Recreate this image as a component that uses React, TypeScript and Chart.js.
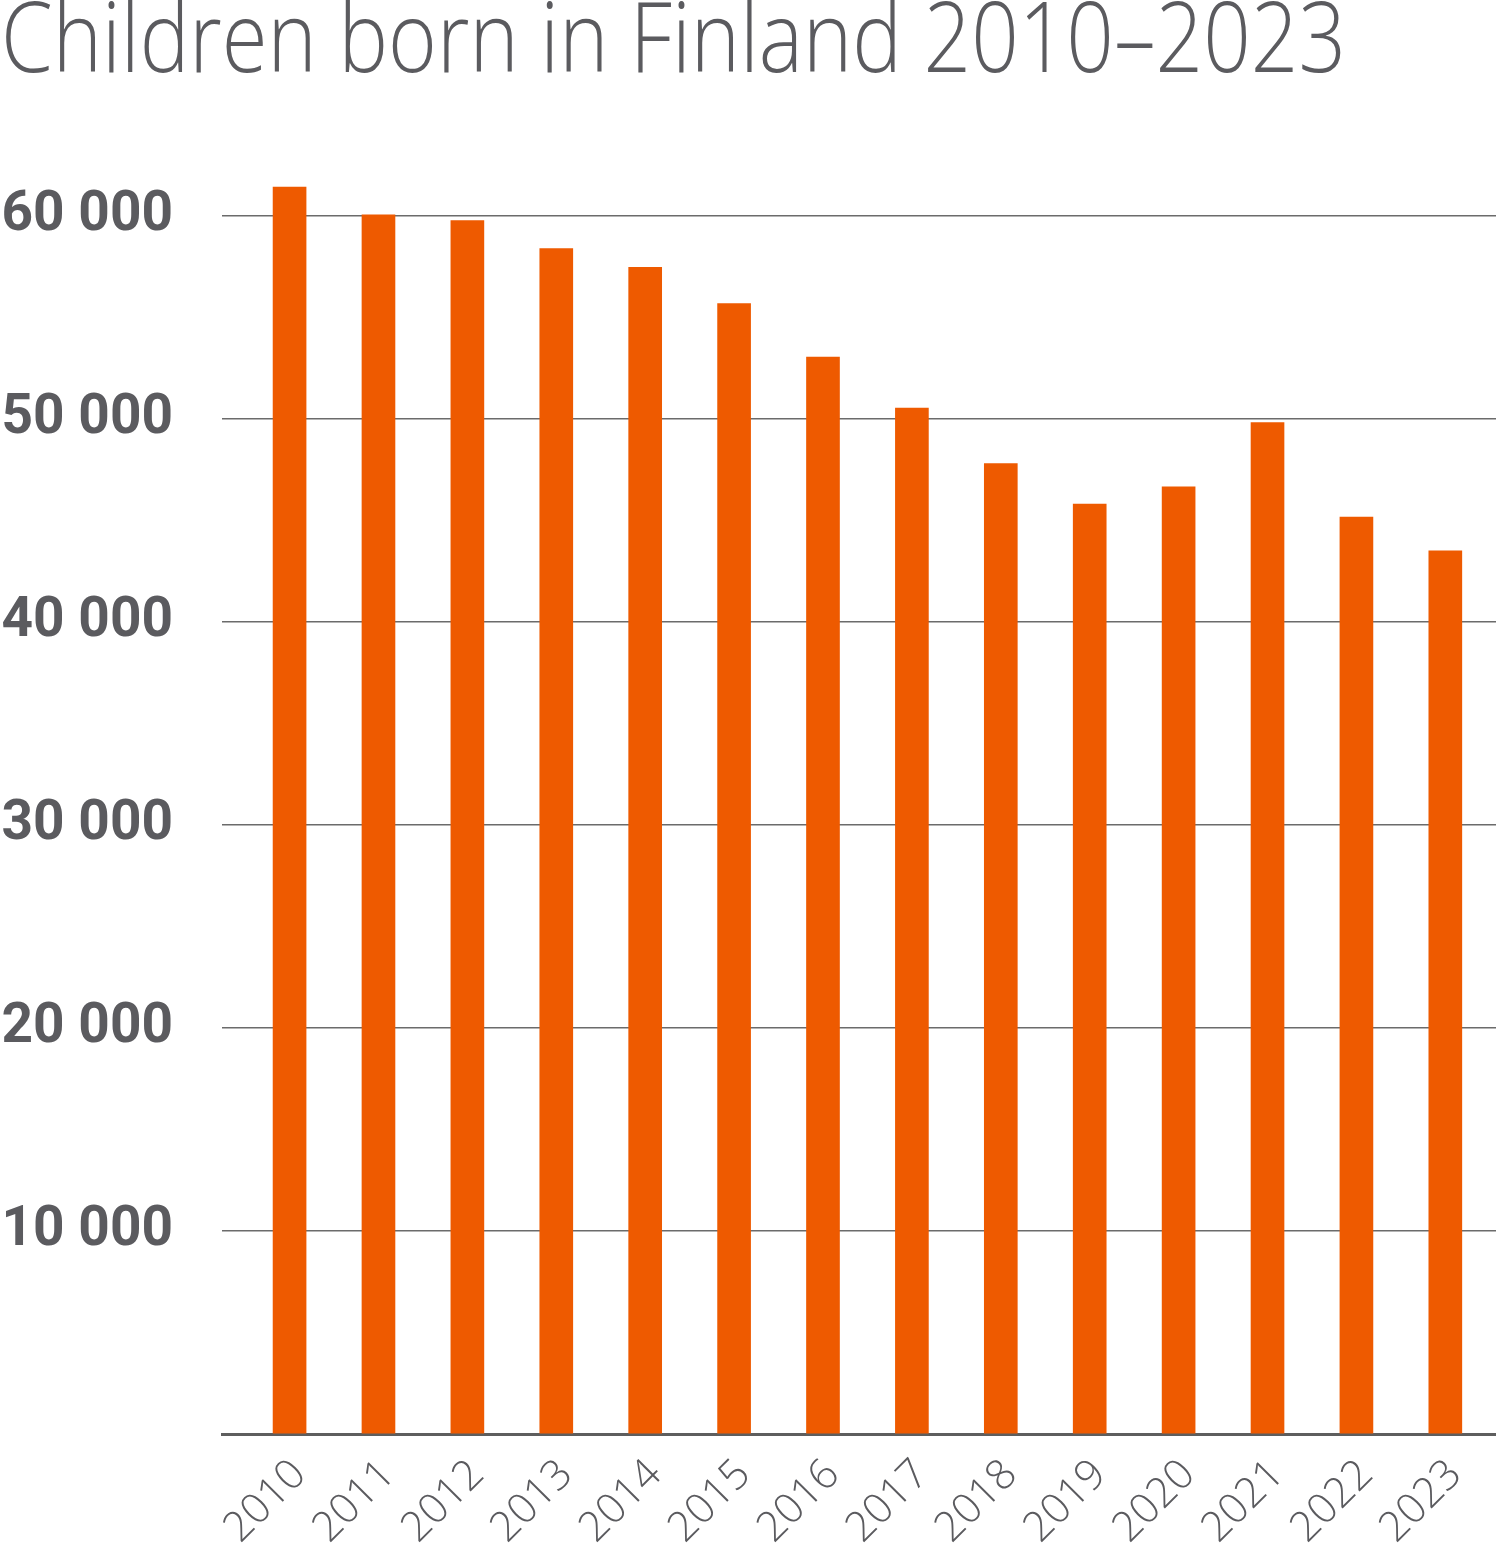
import { useEffect, useRef } from "react";
import { Chart, registerables, type Plugin } from "chart.js";

Chart.register(...registerables);

const TITLE = "Children born in Finland 2010–2023";
const YEARS = ["2010", "2011", "2012", "2013", "2014", "2015", "2016", "2017", "2018", "2019", "2020", "2021", "2022", "2023"];
const BIRTHS = [61430, 60060, 59770, 58390, 57470, 55680, 53050, 50540, 47800, 45810, 46660, 49820, 45170, 43510];
const Y_TICKS = [0, 10000, 20000, 30000, 40000, 50000, 60000];

const GREY = "#5b5b5f";
const ORANGE = "#ee5a00";

const fmt = (v: number) => v.toLocaleString("en-US").replace(/,/g, " ");

export default function App() {
  const canvasRef = useRef<HTMLCanvasElement>(null);

  useEffect(() => {
    document.body.style.margin = "0";
    const canvas = canvasRef.current;
    if (!canvas) return;

    // condensed title drawn on canvas
    const titlePlugin: Plugin<"bar"> = {
      id: "condensedTitle",
      afterDraw(chart) {
        const { ctx } = chart;
        ctx.save();
        ctx.font = '300 98px "Open Sans", Lato, sans-serif';
        ctx.fillStyle = GREY;
        ctx.textBaseline = "alphabetic";
        const w = ctx.measureText(TITLE).width;
        const sx = 1345 / w;
        ctx.translate(1, 72);
        ctx.scale(sx, 1);
        ctx.fillText(TITLE, 0, 0);
        ctx.restore();
      },
    };

    const chart = new Chart(canvas, {
      type: "bar",
      data: {
        datasets: [{
          label: "Children born",
          data: BIRTHS.map((v, i) => ({ x: i, y: v })),
          backgroundColor: ORANGE,
          barThickness: 33,
        }],
      },
      options: {
        responsive: true,
        maintainAspectRatio: false,
        animation: false,
        layout: { padding: { top: 114.5, left: 0, right: 0, bottom: 0 } },
        scales: {
          x: {
            type: "linear",
            offset: false,
            min: -0.76,
            max: 13.57,
            afterFit: (axis) => { axis.height = 113; },
            afterBuildTicks: (axis) => { axis.ticks = YEARS.map((_, i) => ({ value: i })); },
            grid: { display: false },
            border: { color: "#5e5e5e", width: 3 },
            ticks: {
              autoSkip: false,
              minRotation: 45,
              maxRotation: 45,
              padding: 8,
              labelOffset: 10,
              color: GREY,
              font: { family: '"Open Sans", Lato, sans-serif', size: 42, weight: 300 },
              callback: (v) => YEARS[Number(v)] ?? "",
            },
          },
          y: {
            min: 0,
            max: 65000,
            afterFit: (axis) => { axis.width = 222; },
            afterBuildTicks: (axis) => { axis.ticks = Y_TICKS.map(v => ({ value: v })); },
            border: { display: false },
            grid: { color: "#6b6b6b", lineWidth: 1.5, drawTicks: false },
            ticks: {
              padding: 49,
              color: GREY,
              font: { family: 'Roboto, "Open Sans", sans-serif', size: 55, weight: 700 },
              callback: (v) => (Number(v) === 0 ? "" : fmt(Number(v))),
            },
          },
        },
        plugins: {
          legend: { display: false },
          tooltip: { enabled: false },
        },
      },
      plugins: [titlePlugin],
    });

    return () => chart.destroy();
  }, []);

  return (
    <div style={{ width: 1496, height: 1547, position: "relative" }}>
      <canvas ref={canvasRef} />
    </div>
  );
}
